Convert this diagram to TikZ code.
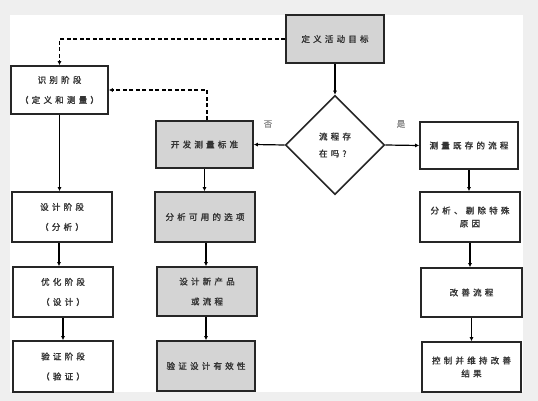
\documentclass[tikz,border=0pt]{standalone}
\usepackage{fontspec}
\newfontfamily\cjk[LetterSpace=38,FakeBold=1.6]{Noto Sans CJK SC}
\usetikzlibrary{shapes.geometric,arrows.meta}
\definecolor{bggray}{HTML}{EFEFEF}
\definecolor{boxgray}{HTML}{D4D4D4}
\tikzset{
  box/.style={draw=black!85,line width=1.6pt,rectangle,inner sep=1pt,align=center,text=black!80,font=\cjk\fontsize{8.5}{20}\selectfont},
  graybox/.style={box,fill=boxgray},
  whitebox/.style={box,fill=white},
  tight/.style={font=\cjk\fontsize{8.5}{13}\selectfont},
  arr/.style={line width=1.2pt,-{Latex[length=4pt,width=4pt]}},
  darr/.style={line width=1.3pt,dash pattern=on 4pt off 2.5pt,-{Latex[length=4pt,width=4pt]}},
  lbl/.style={font=\cjk\fontsize{8.5}{10}\selectfont,text=black!45}
}
\begin{document}
\begin{tikzpicture}[x=1pt,y=-1pt]
\useasboundingbox (0,0) rectangle (538,401);
\fill[bggray] (0,0) rectangle (538,401);
\fill[white] (10,15) rectangle (523,392);

\node[graybox,minimum width=98pt,minimum height=48pt] (goal) at (335,39) {定义活动目标};
\node[draw=black!85,line width=1.6pt,diamond,aspect=1,minimum size=99pt,inner sep=0pt,fill=white,align=left,text=black!80,font=\cjk\fontsize{8.5}{17}\selectfont] (dec) at (335,145) {流程存\\在吗?};
\node[whitebox,minimum width=98pt,minimum height=47pt] (meas) at (469,145.5) {测量既存的流程};
\node[whitebox,minimum width=97pt,minimum height=48pt] (ident) at (59.5,90) {识别阶段\\（定义和测量）};
\node[graybox,minimum width=97pt,minimum height=47pt] (dev) at (204.5,144.5) {开发测量标准};

\node[whitebox,minimum width=100pt,minimum height=50pt] (dph) at (62,217) {设计阶段\\（分析）};
\node[whitebox,minimum width=100pt,minimum height=50pt] (oph) at (63,292) {优化阶段\\（设计）};
\node[whitebox,minimum width=100pt,minimum height=51pt] (vph) at (63,366.5) {验证阶段\\（验证）};

\node[graybox,minimum width=100pt,minimum height=50pt] (opt) at (205,217) {分析可用的选项};
\node[graybox,minimum width=100pt,minimum height=49pt] (dnew) at (207,291.5) {设计新产品\\或流程};
\node[graybox,minimum width=98pt,minimum height=50pt] (vdes) at (206,366) {验证设计有效性};

\node[whitebox,tight,minimum width=100pt,minimum height=50pt] (rem) at (470,217) {分析、剔除特殊\\原因};
\node[whitebox,minimum width=101pt,minimum height=49pt] (imp) at (471.5,292.5) {改善流程};
\node[whitebox,tight,minimum width=99pt,minimum height=50pt] (ctl) at (471.5,367) {控制并维持改善\\结果};

\draw[arr] (goal.south) -- (dec.north);
\draw[arr] (dec.west) -- (dev.east);
\draw[arr] (dec.east) -- (meas.west);
\node[lbl] (no) at (268,124) {否};
\node[lbl] (yes) at (401,124) {是};

\draw[darr] (goal.west) -- (ident.north |- goal.west) -- (ident.north);
\draw[darr] ([xshift=2.5pt]dev.north) |- (ident.east);

\draw[arr] (ident.south) -- (ident.south |- dph.north);
\draw[arr] ([xshift=-3pt]dph.south) -- ([xshift=-3pt]dph.south |- oph.north);
\draw[arr] (oph.south) -- (oph.south |- vph.north);

\draw[arr] (dev.south) -- (dev.south |- opt.north);
\draw[arr] ([xshift=1pt]opt.south) -- ([xshift=1pt]opt.south |- dnew.north);
\draw[arr] ([xshift=-1pt]dnew.south) -- ([xshift=-1pt]dnew.south |- vdes.north);

\draw[arr] (meas.south) -- (meas.south |- rem.north);
\draw[arr] (rem.south) -- (rem.south |- imp.north);
\draw[arr] (imp.south) -- (imp.south |- ctl.north);
\end{tikzpicture}
\end{document}
